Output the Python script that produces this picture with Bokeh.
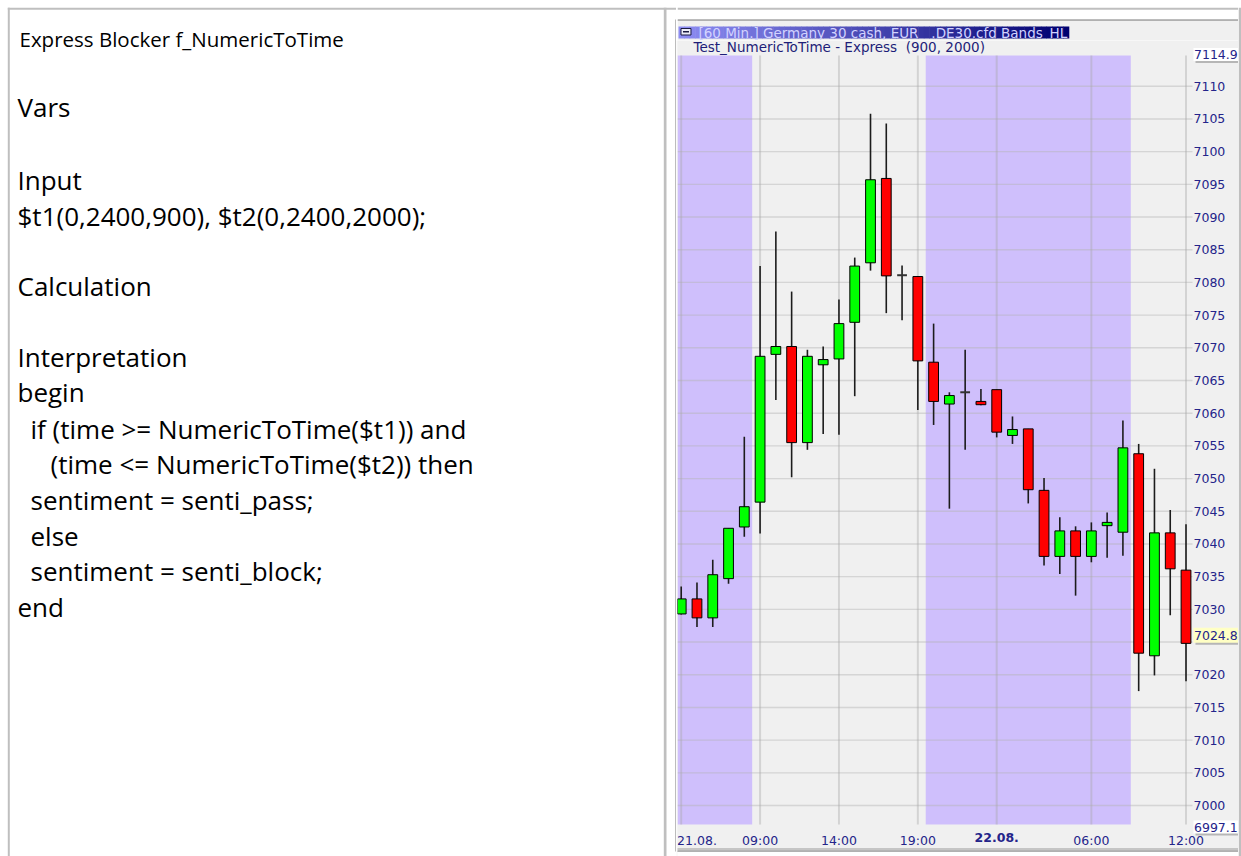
from bokeh.plotting import figure
from bokeh.layouts import row, column
from bokeh.models import Range1d, FixedTicker
from bokeh.core.properties import value
from bokeh.embed import file_html
from bokeh.resources import INLINE

# ---------------- data ----------------
hours = [4, 5, 6, 7, 8, 9, 10, 11, 12, 13, 14, 15, 16, 17, 18, 19, 20, 21, 22, 23,
         0, 1, 2, 3, 4, 5, 6, 7, 8, 9, 10, 11, 12]
opens = [7029.3, 7031.6, 7028.7, 7034.7, 7042.6, 7046.4, 7069.0, 7070.2, 7055.5, 7067.4,
         7068.3, 7073.9, 7083.0, 7095.9, 7081.1, 7080.9, 7067.8, 7061.4, 7063.2, 7061.8,
         7063.6, 7056.6, 7057.6, 7048.2, 7038.1, 7042.0, 7038.1, 7042.8, 7041.8, 7053.8,
         7022.9, 7041.7, 7036.0]
highs = [7033.5, 7034.1, 7037.6, 7042.4, 7056.4, 7082.5, 7087.8, 7078.6, 7069.7, 7070.2,
         7077.4, 7083.8, 7105.8, 7104.3, 7082.6, 7081.0, 7073.7, 7063.2, 7069.7, 7063.7,
         7063.6, 7059.5, 7057.6, 7050.1, 7044.1, 7042.7, 7043.3, 7044.8, 7058.9, 7055.3,
         7051.5, 7045.2, 7043.0]
lows = [7029.2, 7027.3, 7027.3, 7033.9, 7041.1, 7041.6, 7062.0, 7050.2, 7054.4, 7056.8,
        7056.7, 7062.6, 7081.8, 7075.3, 7074.2, 7060.5, 7058.2, 7045.4, 7054.4, 7061.2,
        7056.3, 7055.3, 7046.2, 7036.7, 7035.4, 7032.1, 7037.2, 7037.9, 7038.2, 7017.5,
        7019.9, 7029.1, 7019.0]
closes = [7031.6, 7028.7, 7035.3, 7042.4, 7045.7, 7068.7, 7070.2, 7055.5, 7068.7, 7068.2,
          7073.7, 7082.5, 7095.7, 7081.0, 7081.1, 7068.0, 7061.8, 7062.7, 7063.2, 7061.3,
          7057.1, 7057.5, 7048.3, 7038.1, 7042.0, 7038.1, 7042.0, 7043.3, 7054.7, 7023.3,
          7041.7, 7036.2, 7024.8]
# sentiment per bar: 1 = senti_block (violet background), 0 = senti_pass
blocked = [1] * 5 + [0] * 11 + [1] * 13 + [0] * 4

x_tick_pos = [1, 5, 10, 15, 20, 26, 32]
x_tick_labels = ["21.08.", "09:00", "14:00", "19:00", "22.08.", "06:00", "12:00"]
bold_tick = "22.08."
x_grid_pos = [0, 5, 10, 15, 20, 26, 32]
y_ticks = list(range(7000, 7111, 5))
price_max_label = "7114.9"
price_min_label = "6997.1"
last_label = "7024.8"

title_text = "[60 Min.] Germany 30 cash, EUR\u00a0\u00a0 .DE30.cfd Bands_HL"
subtitle_text = "Test_NumericToTime - Express\u00a0 (900, 2000)"

heading = "Express Blocker f_NumericToTime"
left_lines = ["Vars", "Input",
              "$t1(0,2400,900), $t2(0,2400,2000);", "Calculation", "Interpretation",
              "begin", "if (time >= NumericToTime($t1)) and",
              "(time <= NumericToTime($t2)) then", "sentiment = senti_pass;", "else",
              "sentiment = senti_block;", "end"]
left_indent = [0, 0, 0, 0, 0, 0, 1, 2, 1, 1, 1, 0]

# ---------------- styles / layout ----------------
CF = "DejaVu Sans"
NAVY = "#24248a"
PURPLE = "#cfbffc"
BG = "#f0f0f0"
BORDER = "#bfbfbf"
FRAME = "#7a7a7a"
H = 856
left_baseline = [106.7, 179.5, 215, 285, 356, 391.8, 428, 463.4, 499.8, 535, 570.8, 606.6]
heading_baseline = 38

# ---------------- left text cell ----------------
LW = 676
left = figure(width=LW, height=H, x_range=Range1d(0, LW), y_range=Range1d(H, 0),
              x_axis_type=None, y_axis_type=None, toolbar_location=None,
              output_backend="svg", min_border=0)
left.outline_line_color = None
left.background_fill_color = "white"
left.border_fill_color = "white"
left.quad(left=[7.3, 7.3, 663.3, 675], right=[9.3, LW, 666, LW], top=[7.3, 7.3, 7.3, 19],
          bottom=[H, 9.3, H, 851], fill_color=[BORDER, BORDER, BORDER, FRAME], line_color=None)
indent_px = [17, 30, 50]
left.text(x=[19], y=[heading_baseline], text=[heading], text_font=value("Open Sans"),
          text_font_size=value("20.5px"), text_baseline="alphabetic", text_align="left",
          text_color="black")
left.text(x=[indent_px[i] for i in left_indent], y=left_baseline, text=left_lines,
          text_font=value("Open Sans"), text_font_size=value("26px"),
          text_baseline="alphabetic", text_align="left", text_color="black")

# ---------------- chart header ----------------
RW = 562
HH = 40
hdr = figure(width=RW, height=HH, x_range=Range1d(0, RW), y_range=Range1d(HH, 0),
             x_axis_type=None, y_axis_type=None, toolbar_location=None,
             output_backend="svg", min_border=0)
hdr.outline_line_color = None
hdr.background_fill_color = "white"
hdr.border_fill_color = "white"
hdr.quad(left=[0, 0, 0], right=[RW, RW, RW], top=[7.3, 19, 20.3], bottom=[9.3, 20.3, HH],
         fill_color=[BORDER, FRAME, BG], line_color=None)
nseg = 70
x0b, x1b = 1, 392
c0, c1 = (140, 140, 242), (0, 0, 112)
segL, segR, segC = [], [], []
for k in range(nseg):
    t = k / (nseg - 1)
    segL.append(x0b + (x1b - x0b) * k / nseg)
    segR.append(x0b + (x1b - x0b) * (k + 1) / nseg + 0.5)
    segC.append("#%02x%02x%02x" % tuple(int(round(a + (b - a) * t)) for a, b in zip(c0, c1)))
hdr.quad(left=segL, right=segR, top=26, bottom=38, fill_color=segC, line_color=None)
hdr.quad(left=[3.5], right=[13.5], top=[28], bottom=[34.5], fill_color="#ececf8",
         line_color="#1a1a40", line_width=1)
hdr.segment(x0=[5.5], y0=[31.3], x1=[11.5], y1=[31.3], line_color="#1a1a40", line_width=1.6)
hdr.text(x=[21], y=[32.2], text=[title_text], text_font=value(CF), text_font_size=value("13.5px"),
         text_baseline="middle", text_color="#d2d2ff")

# ---------------- price chart ----------------
PX_X = 15.775          # pixels per bar
PX_Y = 6.539           # pixels per index point
X_LO = -0.235
X_HI = X_LO + 515 / PX_X
Y_LO = 6997.1
Y_HI = Y_LO + 769 / PX_Y
CH = H - HH

p = figure(width=RW, height=CH,
           x_range=Range1d(X_LO, X_LO + (RW - 1) / PX_X),
           y_range=Range1d(Y_LO - 32 / PX_Y, Y_HI + 15 / PX_Y),
           y_axis_location="right", toolbar_location=None, output_backend="svg",
           min_border_left=1, min_border_right=0, min_border_top=0, min_border_bottom=0)
p.background_fill_color = BG
p.border_fill_color = BG
p.outline_line_color = None
p.grid.visible = False

n = len(opens)
idx = list(range(n))

# violet background for blocked bars
runs = []
start = None
for i, b in enumerate(blocked + [0]):
    if b and start is None:
        start = i
    if not b and start is not None:
        runs.append((start - 0.5, i - 0.5))
        start = None
p.quad(left=[max(r[0], X_LO) for r in runs], right=[r[1] for r in runs], bottom=Y_LO,
       top=Y_HI, fill_color=PURPLE, line_color=None)

# grid lines (limited to the price panel)
p.segment(x0=X_LO, y0=y_ticks, x1=X_HI, y1=y_ticks, line_color="#b4b4b4", line_alpha=0.45,
          line_width=1.4)
p.segment(x0=x_grid_pos, y0=Y_LO, x1=x_grid_pos, y1=Y_HI, line_color="#a8a8a8",
          line_alpha=0.4, line_width=2)

# candles
p.segment(x0=idx, y0=highs, x1=idx, y1=lows, line_color="#1c1c1c", line_width=1.6)
body_i = [i for i in idx if opens[i] != closes[i]]
p.vbar(x=body_i, width=0.62,
       top=[max(opens[i], closes[i]) for i in body_i],
       bottom=[min(opens[i], closes[i]) for i in body_i],
       fill_color=["#00ff00" if closes[i] > opens[i] else "#ff0000" for i in body_i],
       line_color="black", line_width=1)
doji_i = [i for i in idx if opens[i] == closes[i]]
p.segment(x0=[i - 0.31 for i in doji_i], y0=[opens[i] for i in doji_i],
          x1=[i + 0.31 for i in doji_i], y1=[closes[i] for i in doji_i],
          line_color="#333333", line_width=2)

# axes drawn inside the chart widget
last_close = closes[-1]
p.xaxis.ticker = FixedTicker(ticks=x_tick_pos)
p.xaxis.major_label_overrides = {pos: ("" if lab == bold_tick else lab)
                                 for pos, lab in zip(x_tick_pos, x_tick_labels)}
p.yaxis.ticker = FixedTicker(ticks=[t for t in y_ticks if abs(t - last_close) > 2.5])
p.xaxis.fixed_location = Y_LO
p.yaxis.fixed_location = X_HI
for ax in (p.xaxis[0], p.yaxis[0]):
    ax.axis_line_color = None
    ax.major_tick_line_color = None
    ax.minor_tick_line_color = None
    ax.major_tick_out = 0
    ax.major_tick_in = 0
    ax.major_label_text_font = CF
    ax.major_label_text_font_size = "12.5px"
    ax.major_label_text_color = NAVY
p.xaxis.major_label_standoff = 8
p.yaxis.major_label_standoff = 1

p.text(x=[x_tick_pos[x_tick_labels.index(bold_tick)]], y=[Y_LO - 8 / PX_Y], text=[bold_tick],
       text_font=value(CF), text_font_size=value("12.5px"), text_font_style="bold",
       text_color=NAVY, text_align="center", text_baseline="top")

p.text(x=[X_LO + 16 / PX_X], y=[Y_HI + 9 / PX_Y], text=[subtitle_text], text_font=value(CF),
       text_font_size=value("13.5px"), text_color="#1e1e78", text_align="left",
       text_baseline="middle")

# price tags on the scale
tag_y = [Y_HI + 1 / PX_Y, Y_LO - 2.5 / PX_Y, last_close + 8 / PX_Y]
tag_txt = [price_max_label, price_min_label, last_label]
tag_fill = ["white", "white", "#ffffc4"]
tag_half = [6.5, 6.5, 7.5]
p.quad(left=[X_HI + 3 / PX_X] * 3, right=[X_HI + 48 / PX_X] * 3,
       top=[y + (h - 2) / PX_Y for y, h in zip(tag_y, tag_half)],
       bottom=[y - (h + 2) / PX_Y for y, h in zip(tag_y, tag_half)],
       fill_color="#a8a8a8", fill_alpha=0.8, line_color=None, level="overlay")
p.quad(left=[X_HI + 1 / PX_X] * 3, right=[X_HI + 46 / PX_X] * 3,
       top=[y + h / PX_Y for y, h in zip(tag_y, tag_half)],
       bottom=[y - h / PX_Y for y, h in zip(tag_y, tag_half)],
       fill_color=tag_fill, line_color=None, level="overlay")
p.text(x=[X_HI + 1.5 / PX_X] * 3, y=tag_y, text=tag_txt, text_font=value(CF),
       text_font_size=value("12.5px"), text_color=NAVY, text_align="left",
       text_baseline="middle", level="overlay")

# bottom edge of the chart widget
xr_end = X_LO + (RW - 1) / PX_X
p.segment(x0=[X_LO], y0=[Y_LO - 24.5 / PX_Y], x1=[xr_end], y1=[Y_LO - 24.5 / PX_Y],
          line_color="#9a9a9a", line_width=2, line_dash="1 1")
p.segment(x0=[X_LO - 1], y0=[Y_LO - 26.6 / PX_Y], x1=[xr_end], y1=[Y_LO - 26.6 / PX_Y],
          line_color=FRAME, line_width=1.4)
p.quad(left=[X_LO - 1], right=[xr_end], top=[Y_LO - 27.3 / PX_Y],
       bottom=[Y_LO - 40 / PX_Y], fill_color="white", line_color=None)

# right table border
strip = figure(width=3, height=H, x_range=Range1d(0, 3), y_range=Range1d(H, 0),
               x_axis_type=None, y_axis_type=None, toolbar_location=None,
               output_backend="svg", min_border=0)
strip.outline_line_color = None
strip.background_fill_color = "white"
strip.border_fill_color = "white"
strip.quad(left=[0], right=[3], top=[7.3], bottom=[H], fill_color=BORDER, line_color=None)

layout = row(left, column(hdr, p), strip)
open("out.html", "w").write(file_html(layout, INLINE))
